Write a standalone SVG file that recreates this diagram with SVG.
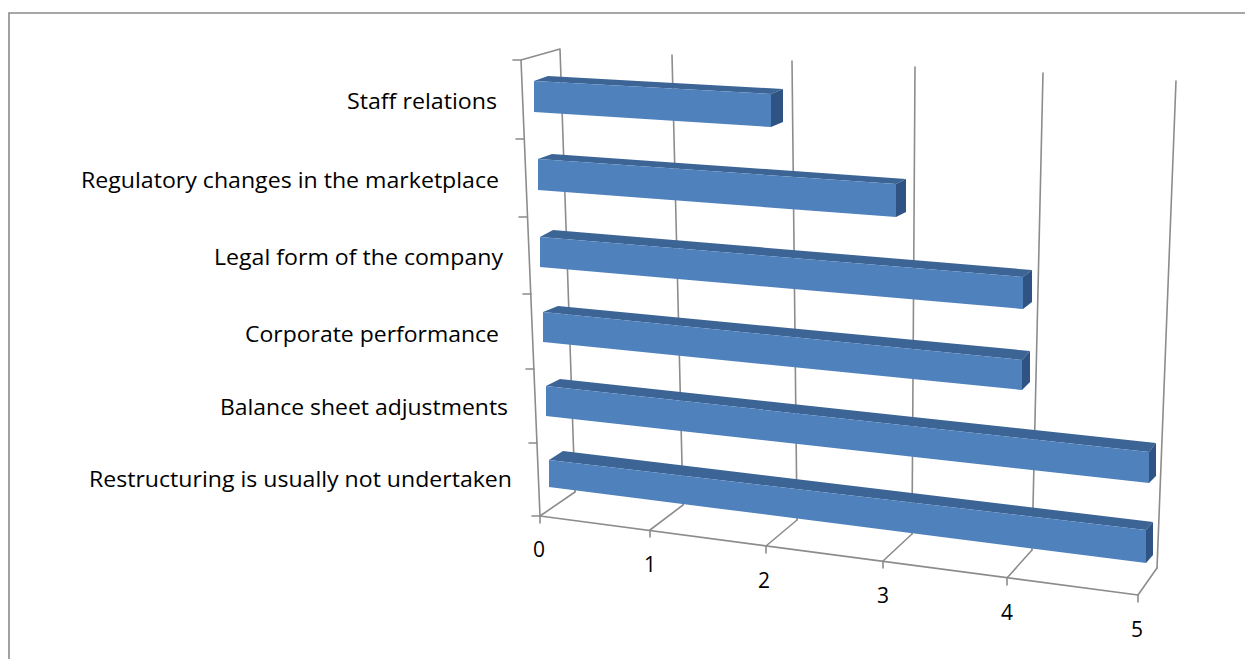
<svg xmlns="http://www.w3.org/2000/svg" width="1245" height="659" viewBox="0 0 1245 659">
<style>
.frame{fill:none;stroke:#8a8a8a;stroke-width:1.6}
.grid{fill:none;stroke:#8c8c8c;stroke-width:1.6;stroke-linecap:round}
.front{fill:#4F81BD}
.top{fill:#3C6595}
.end{fill:#2F5483}
.lbl{font-family:"Open Sans","Liberation Sans",Arial,sans-serif;font-size:22px;fill:#000}
.num{font-family:"Open Sans","Liberation Sans",Arial,sans-serif;font-size:21px;fill:#000;text-anchor:middle}
</style>
<rect width="1245" height="659" fill="#fff"/>
<path class="frame" d="M9 659 V13 H1245"/>
<g id="axes">
<path class="grid" d="M521 60 L540 516 M560 49 L575 492 M521 60 L560 49"/>
<path class="grid" d="M672 55 L683 505 M792 61 L797 520 M915 67 L912 534 M1043 73 L1032 550 M1176 81 L1157 568"/>
<path class="grid" d="M540 516 L1138 595 M540 516 L575 492 M650 530 L683 505 M766 546 L797 520 M883 561 L912 534 M1007 578 L1032 550 M1138 595 L1157 568"/>
<path class="grid" d="M540 516 v7 M650 530 v7 M766 546 v7 M883 561 v7 M1007 578 v7 M1138 595 v7"/>
<path class="grid" d="M513 60 h8 M516 139 h8 M519 217 h8 M523 294 h8 M526 369 h8 M529 443 h8 M532 516 h8"/>
<text class="num" x="539" y="557">0</text>
<text class="num" x="650" y="572">1</text>
<text class="num" x="764" y="588">2</text>
<text class="num" x="883" y="603">3</text>
<text class="num" x="1007" y="620">4</text>
<text class="num" x="1137" y="637">5</text>
</g>
<g id="connectors"></g>
<g id="staff-relations">
<polygon class="top" points="534,81 548,76 783,89 771,94"/>
<polygon class="end" points="771,94 783,89 783,122 771,127"/>
<polygon class="front" points="534,81 771,94 771,127 534,112"/>
<text class="lbl" x="347" y="109" textLength="150" lengthAdjust="spacingAndGlyphs">Staff relations</text>
</g>
<g id="regulatory-changes">
<polygon class="top" points="538,159 552,154 906,179 896,184"/>
<polygon class="end" points="896,184 906,179 906,212 896,217"/>
<polygon class="front" points="538,159 896,184 896,217 538,190"/>
<text class="lbl" x="81" y="188" textLength="418" lengthAdjust="spacingAndGlyphs">Regulatory changes in the marketplace</text>
</g>
<g id="legal-form">
<polygon class="top" points="540,237 553,230 1032,270 1023,277"/>
<polygon class="end" points="1023,277 1032,270 1032,302 1023,309"/>
<polygon class="front" points="540,237 1023,277 1023,309 540,267"/>
<text class="lbl" x="214" y="265" textLength="289" lengthAdjust="spacingAndGlyphs">Legal form of the company</text>
</g>
<g id="corporate-performance">
<polygon class="top" points="543,312 558,306 1030,351 1022,360"/>
<polygon class="end" points="1022,360 1030,351 1030,382 1022,390"/>
<polygon class="front" points="543,312 1022,360 1022,390 543,342"/>
<text class="lbl" x="245" y="342" textLength="254" lengthAdjust="spacingAndGlyphs">Corporate performance</text>
</g>
<g id="balance-sheet">
<polygon class="top" points="546,386 560,379 1156,443 1149,452"/>
<polygon class="end" points="1149,452 1156,443 1156,476 1149,483"/>
<polygon class="front" points="546,386 1149,452 1149,483 546,416"/>
<text class="lbl" x="220" y="415" textLength="288" lengthAdjust="spacingAndGlyphs">Balance sheet adjustments</text>
</g>
<g id="restructuring">
<polygon class="top" points="549,460 563,451 1153,522 1146,530"/>
<polygon class="end" points="1146,530 1153,522 1153,555 1146,563"/>
<polygon class="front" points="549,460 1146,530 1146,563 549,487"/>
<text class="lbl" x="89" y="487" textLength="423" lengthAdjust="spacingAndGlyphs">Restructuring is usually not undertaken</text>
</g>
</svg>
